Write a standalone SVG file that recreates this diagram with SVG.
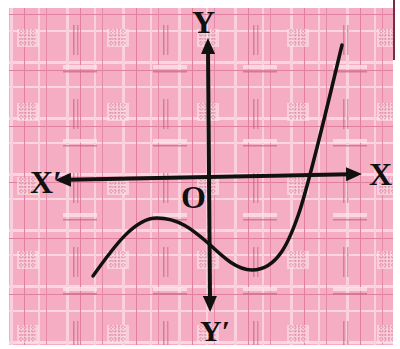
<svg xmlns="http://www.w3.org/2000/svg" width="400" height="349" viewBox="0 0 400 349">
  <defs>
    <pattern id="plaidA" width="56" height="56" patternUnits="userSpaceOnUse">
      <rect width="56" height="56" fill="#f5adc4"/>
      <rect x="0" y="5" width="56" height="3" fill="#fbd6e1"/>
      <rect x="0" y="30" width="56" height="2" fill="#fbd6e1"/>
      <rect x="10" y="0" width="3" height="56" fill="#fbd0dd"/>
      <rect x="38" y="0" width="2" height="56" fill="#fbd0dd"/>
      <rect x="0" y="14" width="56" height="1" fill="#e07f9f"/>
      <rect x="24" y="0" width="1" height="56" fill="#e07f9f"/>
      <rect x="46" y="0" width="1" height="56" fill="#e58aa8"/>
    </pattern>
    <pattern id="plaidB" x="13" y="21" width="90" height="74" patternUnits="userSpaceOnUse">
      <rect x="4" y="8" width="22" height="18" fill="#fce3ea" opacity="0.6"/>
      <path d="M6,10h18M6,14h18M6,18h18M6,22h18M8,8v18M12,8v18M16,8v18M20,8v18" stroke="#c9567c" stroke-width="1" stroke-dasharray="1.5 1.5" opacity="0.7"/>
      <rect x="50" y="44" width="34" height="4" fill="#fde8ee" opacity="0.7"/>
      <rect x="50" y="50" width="34" height="1.5" fill="#cf6088" opacity="0.7"/>
      <rect x="60" y="4" width="1.5" height="30" fill="#c9567c" opacity="0.6"/>
      <rect x="64" y="4" width="1.5" height="30" fill="#c9567c" opacity="0.5"/>
    </pattern>
    <marker id="arrow" viewBox="0 0 16 14" refX="4" refY="7" markerWidth="16" markerHeight="14" markerUnits="userSpaceOnUse" orient="auto-start-reverse">
      <path d="M0,0 L16,7 L0,14 Z" fill="#111"/>
    </marker>
    <style>
      .axis { stroke: #111; stroke-width: 4; fill: none; }
      .curve { stroke: #111; stroke-width: 3.5; fill: none; stroke-linecap: round; }
      .lbl { font-family: "Liberation Serif", "Times New Roman", serif; font-weight: bold; font-size: 32px; fill: #111; }
    </style>
  </defs>

  <rect width="400" height="349" fill="#ffffff"/>
  <g id="background">
    <rect x="9" y="8" width="384" height="337" fill="url(#plaidA)"/>
    <rect x="9" y="8" width="384" height="337" fill="url(#plaidB)"/>
    <line x1="394" y1="0" x2="394" y2="60" stroke="#7a2a45" stroke-width="2"/>
  </g>

  <g id="connectors">
    <line id="x-axis" class="axis" x1="67" y1="179.8" x2="350" y2="174.2" marker-start="url(#arrow)" marker-end="url(#arrow)"/>
    <line id="y-axis" class="axis" x1="208" y1="50" x2="210" y2="300" marker-start="url(#arrow)" marker-end="url(#arrow)"/>
  </g>

  <g id="curve">
    <path class="curve" d="M93,276 C115,245 135,218 157,218 C180,218 195,232 208,243 C222,256 236,270 252,270 C278,270 290,240 300,210 C312,172 330,95 342,45"/>
  </g>

  <g id="label-y"><text class="lbl" x="192" y="33">Y</text></g>
  <g id="label-y-prime"><text class="lbl" x="200" y="341" style="font-size:30px">Y′</text></g>
  <g id="label-x"><text class="lbl" x="369" y="185">X</text></g>
  <g id="label-x-prime"><text class="lbl" x="30" y="193">X′</text></g>
  <g id="label-o"><text class="lbl" x="181" y="208">O</text></g>
</svg>
